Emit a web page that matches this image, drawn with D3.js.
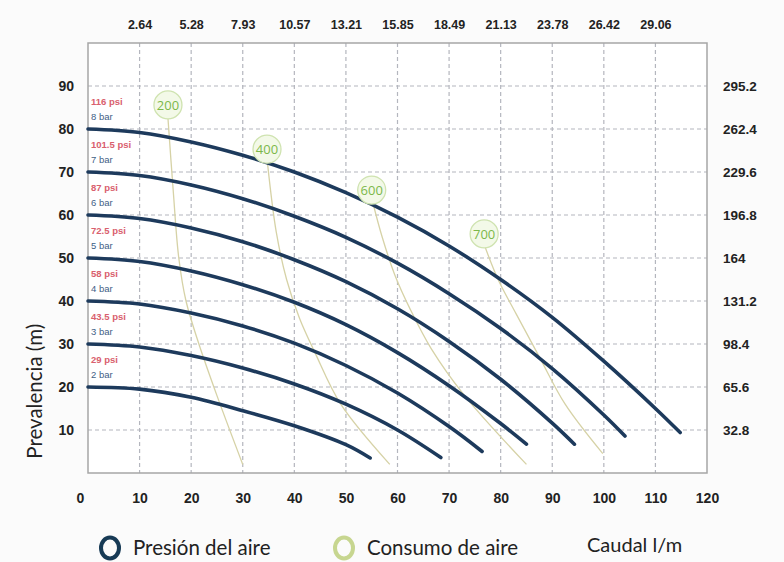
<!DOCTYPE html>
<html><head><meta charset="utf-8">
<script src="https://cdn.jsdelivr.net/npm/d3@7/dist/d3.min.js"></script>
<style>
html,body{margin:0;padding:0;background:#fbfbfb;}
svg{display:block;}
</style></head>
<body>
<svg id="chart" width="784" height="562"></svg>
<script>
// ---------- DATA ----------
const flowTicks = [0,10,20,30,40,50,60,70,80,90,100,110,120];
const headTicks = [10,20,30,40,50,60,70,80,90];
const gallonLabels = ["2.64","5.28","7.93","10.57","13.21","15.85","18.49","21.13","23.78","26.42","29.06"];
const feetLabels = ["32.8","65.6","98.4","131.2","164","196.8","229.6","262.4","295.2"];

const barLabels = ["2 bar","3 bar","4 bar","5 bar","6 bar","7 bar","8 bar"];
const psiLabels = ["29 psi","43.5 psi","58 psi","72.5 psi","87 psi","101.5 psi","116 psi"];

const curve2bar = [[0,20],[10,19.5],[20,17.6],[30,14.5],[40,11],[50,6.6],[54.7,3.5]];
const curve3bar = [[0,30],[10,29.3],[20,27.3],[30,24.4],[40,20.7],[50,16],[60,10],[68.4,3.6]];
const curve4bar = [[0,40],[10,39.3],[20,37.2],[30,34.2],[40,30.2],[50,25],[60,18.6],[70,10.8],[76.4,5]];
const curve5bar = [[0,50],[10,49.2],[20,47],[30,43.8],[40,39.7],[50,34.5],[60,28],[70,20.3],[80,11.5],[85,6.7]];
const curve6bar = [[0,60],[10,59.2],[20,57],[30,53.8],[40,49.6],[50,44.5],[60,38.2],[70,30.6],[80,21.8],[90,11.6],[94.3,6.7]];
const curve7bar = [[0,70],[10,69.2],[20,67],[30,63.8],[40,59.7],[50,54.8],[60,48.8],[70,41.7],[80,33.6],[90,24.3],[100,13.5],[104.1,8.6]];
const curve8bar = [[0,80],[10,79.2],[20,77],[30,73.9],[40,70],[50,65.2],[60,59.5],[70,52.8],[80,45],[90,36.2],[100,26],[110,15],[114.8,9.4]];
const pressureCurves = [curve2bar,curve3bar,curve4bar,curve5bar,curve6bar,curve7bar,curve8bar];
const pressureStart = [20,30,40,50,60,70,80];

const airLabels = ["200","400","600","700"];
const airCircleQ = [15.5,34.7,55,76.8];
const airCircleH = [85.6,75.3,65.8,55.6];
const air200 = [[15.5,82.5],[16.5,66],[17.6,50],[19,40],[21.5,30],[25,18],[30,2]];
const air400 = [[34.8,72],[36.5,56],[38.5,45],[41,36],[44,28],[49,16],[58.5,2]];
const air600 = [[55.3,62.5],[57,55],[59.5,46],[62.5,38],[66.5,29],[73,18],[85,2]];
const air700 = [[77,52.5],[79.5,45],[83,37],[87.5,27],[92.5,16],[99.8,4.5]];
const airCurves = [air200,air400,air600,air700];

const legendItems = ["Presión del aire","Consumo de aire"];
const xTitle = "Caudal l/m";
const yTitle = "Prevalencia (m)";

// ---------- LAYOUT ----------
const svg = d3.select("#chart");
const L = 88, R = 707, T = 43, B = 473;
const x = d3.scaleLinear().domain([0,120]).range([L,R]);
const y = d3.scaleLinear().domain([0,100]).range([B,T]);

const navy = "#1d3a5c";
const grid = "#b4b6be";
const boldFont = "'Liberation Sans', Arial, sans-serif";
const textFont = "Lato, 'Open Sans', sans-serif";

// plot background
svg.append("rect").attr("x",L).attr("y",T).attr("width",R-L).attr("height",B-T).attr("fill","#ffffff");

// grid
const g = svg.append("g");
g.selectAll(".vg").data(flowTicks.filter(d=>d>0 && d<120)).enter().append("line")
  .attr("x1",d=>x(d)).attr("x2",d=>x(d)).attr("y1",T).attr("y2",B)
  .attr("stroke",grid).attr("stroke-width",1.2).attr("stroke-dasharray","4,3");
g.selectAll(".hg").data(headTicks).enter().append("line")
  .attr("x1",L).attr("x2",R).attr("y1",d=>y(d)).attr("y2",d=>y(d))
  .attr("stroke",grid).attr("stroke-width",1.2).attr("stroke-dasharray","4,3");

// border
svg.append("rect").attr("x",L).attr("y",T).attr("width",R-L).attr("height",B-T)
  .attr("fill","none").attr("stroke","#a6a6a6").attr("stroke-width",1.5);

// axes labels (bottom)
const xAxis = d3.axisBottom(x).tickValues(flowTicks).tickSize(0).tickFormat(d3.format("d"));
const xa = svg.append("g").attr("transform",`translate(0,${B})`).call(xAxis);
xa.select(".domain").remove();
xa.selectAll("text").attr("dy","1.95em").attr("font-family",boldFont).attr("font-weight","bold")
  .attr("font-size",14).attr("fill","#222").attr("dx",(d)=>d===0?-8:0);

// left
const yAxis = d3.axisLeft(y).tickValues(headTicks).tickSize(0).tickFormat(d3.format("d"));
const ya = svg.append("g").attr("transform",`translate(${L-11},0)`).call(yAxis);
ya.select(".domain").remove();
ya.selectAll("text").attr("font-family",boldFont).attr("font-weight","bold").attr("font-size",14).attr("fill","#222");

// top (gallons)
const topScale = d3.scalePoint().domain(gallonLabels).range([x(10),x(110)]);
const ta = svg.append("g").attr("transform",`translate(0,${T-11})`).call(d3.axisTop(topScale).tickSize(0));
ta.select(".domain").remove();
ta.selectAll("text").attr("font-family",boldFont).attr("font-weight","bold").attr("font-size",12.5).attr("fill","#222");

// right (feet)
const rightScale = d3.scalePoint().domain(feetLabels).range([y(10),y(90)]);
const ra = svg.append("g").attr("transform",`translate(${R+16},0)`).call(d3.axisRight(rightScale).tickSize(0));
ra.select(".domain").remove();
ra.selectAll("text").attr("x",0).attr("font-family",boldFont).attr("font-weight","bold").attr("font-size",13.5).attr("fill","#222");

// y title
svg.append("text").attr("transform",`translate(42,${y(19)}) rotate(-90)`).attr("text-anchor","middle")
  .attr("font-family",textFont).attr("font-size",20.5).attr("fill","#222").text(yTitle);

// air consumption lines
const lineAir = d3.line().x(d=>x(d[0])).y(d=>y(d[1])).curve(d3.curveCatmullRom);
svg.selectAll(".air").data(airCurves).enter().append("path")
  .attr("d",lineAir).attr("fill","none").attr("stroke","#d6d2a6").attr("stroke-width",1.3);

// pressure curves
const linePress = d3.line().x(d=>x(d[0])).y(d=>y(d[1])).curve(d3.curveCatmullRom);
svg.selectAll(".press").data(pressureCurves).enter().append("path")
  .attr("d",linePress).attr("fill","none").attr("stroke",navy).attr("stroke-width",3.6).attr("stroke-linecap","round");

// air circles
const ac = svg.selectAll(".ac").data(airLabels).enter().append("g")
  .attr("transform",(d,i)=>`translate(${x(airCircleQ[i])},${y(airCircleH[i])})`);
ac.append("circle").attr("r",14).attr("fill","#f3f9e8").attr("stroke","#cfe3b0").attr("stroke-width",1.3);
ac.append("text").attr("text-anchor","middle").attr("dy","0.36em").attr("font-family","'Open Sans', sans-serif")
  .attr("font-size",13).attr("fill","#7cb84a").text(d=>d);

// pressure labels
svg.selectAll(".psi").data(psiLabels).enter().append("text")
  .attr("x",L+3).attr("y",(d,i)=>y(pressureStart[i])-24)
  .attr("font-family",boldFont).attr("font-weight","bold").attr("font-size",9.5).attr("fill","#d9606e").text(d=>d);
svg.selectAll(".bar").data(barLabels).enter().append("text")
  .attr("x",L+3).attr("y",(d,i)=>y(pressureStart[i])-9)
  .attr("font-family",boldFont).attr("font-size",9.5).attr("fill","#3f5f86").text(d=>d);

// legend
const lg = svg.append("g");
lg.append("ellipse").attr("cx",110).attr("cy",548).attr("rx",9).attr("ry",10.5).attr("fill","none").attr("stroke","#173a55").attr("stroke-width",4);
lg.append("text").attr("x",133).attr("y",555).attr("font-family",textFont).attr("font-size",20.5).attr("fill","#222").text(legendItems[0]);
lg.append("ellipse").attr("cx",344).attr("cy",548).attr("rx",9).attr("ry",10.5).attr("fill","none").attr("stroke","#c7d690").attr("stroke-width",4);
lg.append("text").attr("x",367).attr("y",555).attr("font-family",textFont).attr("font-size",20.5).attr("fill","#222").text(legendItems[1]);
lg.append("text").attr("x",587).attr("y",552).attr("font-family",textFont).attr("font-size",20).attr("fill","#222").text(xTitle);
</script>
</body></html>
